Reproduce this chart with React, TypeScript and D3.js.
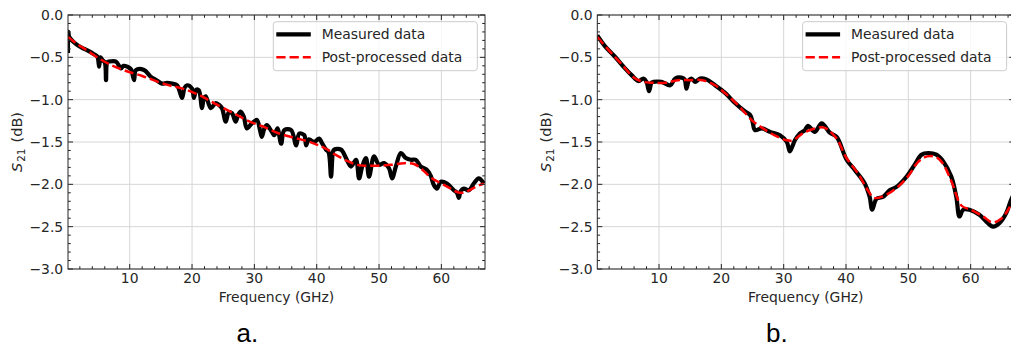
import React from "react";
import * as d3 from "d3";

// ---------- DATA ----------
const xTicks = [10, 20, 30, 40, 50, 60];
const yTicks = [0, -0.5, -1, -1.5, -2, -2.5, -3];
const legendLabels = ["Measured data", "Post-processed data"];
const panelLabels = ["a.", "b."];

const measAFreq = [0.1, 0.15, 0.3, 1.0, 1.9, 2.7, 3.5, 4.2, 4.8, 5.1, 5.3, 5.6, 6.0, 6.2, 6.4, 6.7, 7.8, 8.6, 9.0, 9.6, 10.2, 10.7, 11.0, 12.3, 13.4, 14.3, 15.2, 16.0, 16.8, 17.6, 18.0, 18.4, 18.8, 19.2, 20.0, 20.3, 20.7, 21.1, 21.6, 21.9, 22.2, 23.0, 23.8, 24.3, 24.8, 25.4, 25.9, 26.4, 27.0, 27.4, 27.8, 28.3, 28.8, 29.6, 30.4, 30.9, 31.2, 31.6, 32.0, 32.8, 33.2, 33.7, 34.3, 34.8, 35.9, 36.7, 37.2, 38.0, 38.3, 38.7, 39.1, 39.6, 40.4, 40.9, 41.5, 41.9, 42.3, 42.6, 42.8, 43.9, 44.7, 45.5, 46.3, 46.8, 47.3, 47.9, 48.4, 49.2, 50.0, 50.8, 51.6, 52.1, 52.7, 53.5, 54.3, 55.1, 55.9, 56.7, 57.7, 58.3, 58.8, 59.3, 59.9, 60.9, 62.0, 62.5, 62.8, 63.1, 63.6, 64.4, 65.2, 66.0, 66.8];
const measAVal = [-0.45, -0.2, -0.26, -0.32, -0.37, -0.40, -0.43, -0.46, -0.49, -0.61, -0.50, -0.53, -0.56, -0.77, -0.56, -0.55, -0.55, -0.63, -0.60, -0.61, -0.64, -0.77, -0.65, -0.65, -0.73, -0.77, -0.81, -0.80, -0.81, -0.83, -0.90, -0.98, -0.86, -0.83, -0.87, -0.98, -0.88, -0.89, -1.10, -0.98, -0.96, -1.10, -1.04, -1.06, -1.10, -1.26, -1.15, -1.16, -1.26, -1.18, -1.14, -1.20, -1.34, -1.28, -1.24, -1.36, -1.44, -1.34, -1.30, -1.38, -1.42, -1.34, -1.52, -1.36, -1.36, -1.54, -1.40, -1.42, -1.54, -1.47, -1.48, -1.50, -1.46, -1.52, -1.59, -1.62, -1.91, -1.62, -1.59, -1.59, -1.69, -1.79, -1.71, -1.93, -1.79, -1.69, -1.91, -1.67, -1.77, -1.75, -1.81, -1.93, -1.79, -1.63, -1.69, -1.71, -1.71, -1.79, -1.83, -1.90, -2.01, -2.05, -1.97, -1.99, -2.07, -2.10, -2.16, -2.08, -2.05, -2.07, -1.99, -1.93, -1.99];

const postAFreq = [0.1, 1.5, 3, 5, 6.7, 9, 12, 15.8, 18.5, 21, 23.5, 26.4, 29, 31.8, 34, 36.4, 38.5, 40, 41.5, 43, 44.8, 46.5, 48, 50, 52, 54, 55.6, 57, 58.3, 60, 61.5, 62.5, 63.5, 64.5, 65.5, 66.8];
const postAVal = [-0.26, -0.34, -0.41, -0.51, -0.58, -0.65, -0.72, -0.82, -0.87, -0.94, -1.04, -1.15, -1.25, -1.33, -1.40, -1.45, -1.49, -1.53, -1.58, -1.65, -1.72, -1.77, -1.78, -1.78, -1.77, -1.75, -1.76, -1.83, -1.92, -1.99, -2.05, -2.09, -2.10, -2.07, -2.03, -1.99];

const measBFreq = [0.1, 1.35, 2.9, 4.55, 5.6, 6.7, 7.5, 8.0, 8.4, 8.8, 9.1, 10.4, 11.8, 12.6, 13.6, 14.1, 14.4, 14.8, 15.2, 15.8, 16.6, 17.6, 19.0, 20.6, 22.2, 23.8, 24.6, 25.0, 25.4, 26.5, 27.8, 29.4, 30.5, 31.0, 31.4, 31.8, 32.6, 33.4, 33.9, 35.0, 36.1, 37.4, 38.5, 40.1, 41.4, 43.0, 43.8, 44.2, 44.9, 45.9, 47.0, 48.1, 49.7, 51.0, 52.1, 53.2, 54.5, 55.6, 56.9, 57.7, 58.2, 58.8, 59.8, 61.4, 62.5, 63.6, 64.6, 65.7, 66.4, 67];
const measBVal = [-0.24, -0.37, -0.49, -0.63, -0.71, -0.78, -0.75, -0.79, -0.90, -0.80, -0.79, -0.79, -0.83, -0.75, -0.74, -0.76, -0.87, -0.77, -0.75, -0.79, -0.75, -0.76, -0.83, -0.92, -1.04, -1.14, -1.18, -1.26, -1.36, -1.34, -1.38, -1.42, -1.50, -1.61, -1.55, -1.48, -1.40, -1.36, -1.31, -1.38, -1.28, -1.39, -1.44, -1.71, -1.83, -1.99, -2.15, -2.30, -2.17, -2.15, -2.07, -2.03, -1.91, -1.77, -1.65, -1.63, -1.65, -1.73, -1.91, -2.15, -2.38, -2.30, -2.30, -2.36, -2.44, -2.50, -2.46, -2.34, -2.20, -2.10];

const postBFreq = [0.1, 2, 4, 6, 7.5, 9, 11, 13, 15, 17, 19, 21, 23, 25, 26.5, 28.5, 30.5, 31.5, 33, 35, 36.5, 38.5, 40, 42, 43.5, 44.5, 46, 48, 50, 51.5, 53, 54.5, 55.5, 57, 58.5, 60, 62, 63.5, 65, 66, 67];
const postBVal = [-0.26, -0.42, -0.58, -0.74, -0.79, -0.80, -0.80, -0.77, -0.77, -0.77, -0.83, -0.95, -1.09, -1.25, -1.33, -1.42, -1.48, -1.48, -1.40, -1.34, -1.33, -1.46, -1.68, -1.88, -2.07, -2.16, -2.14, -2.05, -1.90, -1.74, -1.67, -1.68, -1.75, -1.98, -2.25, -2.30, -2.38, -2.45, -2.40, -2.30, -2.15];

const xDomain = [0.1, 67];
const yDomain = [-3, 0];

// ---------- LAYOUT ----------
const W = 1011;
const H = 347;
const FONT = "'DejaVu Sans', sans-serif";
const FS = 13.9;

type Panel = {
  left: number;
  label: string;
  labelX: number;
  meas: [number, number][];
  post: [number, number][];
};

const zip = (a: number[], b: number[]): [number, number][] => a.map((v, i) => [v, b[i]]);

const panels: Panel[] = [
  { left: 68, label: panelLabels[0], labelX: 236.5, meas: zip(measAFreq, measAVal), post: zip(postAFreq, postAVal) },
  { left: 597.3, label: panelLabels[1], labelX: 766, meas: zip(measBFreq, measBVal), post: zip(postBFreq, postBVal) },
];

const AX_W = 417;
const TOP = 15;
const BOTTOM = 269;

function Axes({ p, idx }: { p: Panel; idx: number }) {
  const x = d3.scaleLinear().domain(xDomain).range([p.left, p.left + AX_W]);
  const y = d3.scaleLinear().domain(yDomain).range([BOTTOM, TOP]);
  const line = d3
    .line<[number, number]>()
    .x((d) => x(d[0]))
    .y((d) => y(d[1]))
    .curve(d3.curveCatmullRom.alpha(0.5));
  const minorX = d3.range(2, 67, 2).filter((v) => v % 10 !== 0);
  const minorY = d3.range(-29, 0, 1).map((v) => v / 10).filter((v) => Math.round(v * 10) % 5 !== 0);
  const clipId = `clip${idx}`;
  const right = p.left + AX_W;
  const cx = p.left + AX_W / 2;
  const spine = "#262626";
  const lx = p.left + 205.3;
  return (
    <g>
      <defs>
        <clipPath id={clipId}>
          <rect x={p.left} y={TOP} width={AX_W} height={BOTTOM - TOP} />
        </clipPath>
      </defs>
      {/* grid */}
      {xTicks.map((t) => (
        <line key={"gx" + t} x1={x(t)} x2={x(t)} y1={TOP} y2={BOTTOM} stroke="#d6d6d6" strokeWidth={1} />
      ))}
      {yTicks.map((t) => (
        <line key={"gy" + t} x1={p.left} x2={right} y1={y(t)} y2={y(t)} stroke="#d6d6d6" strokeWidth={1} />
      ))}
      {/* data */}
      <g clipPath={`url(#${clipId})`}>
        <path d={line(p.meas) || ""} fill="none" stroke="#000" strokeWidth={4.2} strokeLinejoin="round" />
        <path d={line(p.post) || ""} fill="none" stroke="#ff0000" strokeWidth={2.5} strokeDasharray="9.25 4" />
      </g>
      {/* ticks inward, all four sides */}
      {xTicks.map((t) => (
        <g key={"tx" + t}>
          <line x1={x(t)} x2={x(t)} y1={BOTTOM} y2={BOTTOM - 5} stroke={spine} />
          <line x1={x(t)} x2={x(t)} y1={TOP} y2={TOP + 5} stroke={spine} />
          <text x={x(t)} y={283.4} textAnchor="middle" fontFamily={FONT} fontSize={FS} fill="#262626">
            {t}
          </text>
        </g>
      ))}
      {minorX.map((t) => (
        <g key={"mx" + t}>
          <line x1={x(t)} x2={x(t)} y1={BOTTOM} y2={BOTTOM - 2.8} stroke={spine} />
          <line x1={x(t)} x2={x(t)} y1={TOP} y2={TOP + 2.8} stroke={spine} />
        </g>
      ))}
      {yTicks.map((t) => (
        <g key={"ty" + t}>
          <line x1={p.left} x2={p.left + 5} y1={y(t)} y2={y(t)} stroke={spine} />
          <line x1={right} x2={right - 5} y1={y(t)} y2={y(t)} stroke={spine} />
          <text x={p.left - 4.8} y={y(t) + 5} textAnchor="end" fontFamily={FONT} fontSize={FS} fill="#262626">
            {t === 0 ? "0.0" : "\u2212" + Math.abs(t).toFixed(1)}
          </text>
        </g>
      ))}
      {minorY.map((t) => (
        <g key={"my" + t}>
          <line x1={p.left} x2={p.left + 2.8} y1={y(t)} y2={y(t)} stroke={spine} />
          <line x1={right} x2={right - 2.8} y1={y(t)} y2={y(t)} stroke={spine} />
        </g>
      ))}
      <rect x={p.left} y={TOP} width={AX_W} height={BOTTOM - TOP} fill="none" stroke={spine} strokeWidth={1} />
      {/* axis labels */}
      <text x={cx} y={301.8} textAnchor="middle" fontFamily={FONT} fontSize={FS} fill="#262626">
        Frequency (GHz)
      </text>
      <text
        transform={`translate(${p.left - 46.2},${(TOP + BOTTOM) / 2}) rotate(-90)`}
        textAnchor="middle"
        fontFamily={FONT}
        fontSize={FS + 0.6}
        fill="#262626"
      >
        <tspan fontStyle="italic">S</tspan>
        <tspan fontSize={FS * 0.75} dy={3} dx={1}>21</tspan>
        <tspan dy={-3} dx={1.5}> (dB)</tspan>
      </text>
      {/* legend */}
      <rect x={lx} y={21.7} width={204} height={49} rx={3} fill="#fff" fillOpacity={0.8} stroke="#cccccc" strokeWidth={1} />
      <line x1={lx + 3} x2={lx + 37.5} y1={34.3} y2={34.3} stroke="#000" strokeWidth={4.2} />
      <line x1={lx + 3} x2={lx + 37.5} y1={57.3} y2={57.3} stroke="#ff0000" strokeWidth={2.5} strokeDasharray="9.25 4" />
      <text x={lx + 48.4} y={38.5} fontFamily={FONT} fontSize={FS} fill="#262626">
        {legendLabels[0]}
      </text>
      <text x={lx + 48.4} y={61.5} fontFamily={FONT} fontSize={FS} fill="#262626">
        {legendLabels[1]}
      </text>
      {/* panel label */}
      <text x={p.labelX} y={342} fontFamily="'Liberation Sans', Arial, sans-serif" fontSize={26} fill="#000">
        {p.label}
      </text>
    </g>
  );
}

export default function App() {
  return (
    <svg
      width={W}
      height={H}
      viewBox={`0 0 ${W} ${H}`}
      style={{ position: "absolute", left: 0, top: 0, background: "#fff" }}
    >
      <rect x={0} y={0} width={W} height={H} fill="#fff" />
      {panels.map((p, i) => (
        <Axes key={i} p={p} idx={i} />
      ))}
    </svg>
  );
}
